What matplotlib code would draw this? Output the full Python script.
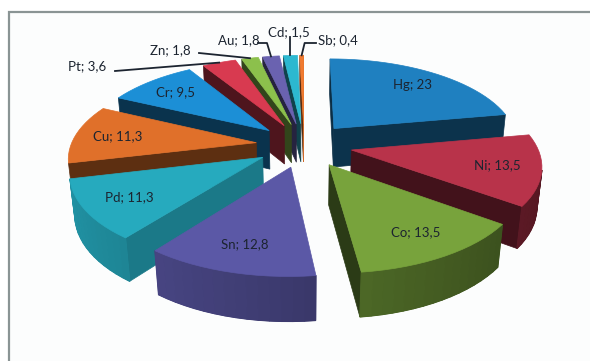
import numpy as np
import matplotlib
matplotlib.use("Agg")
import matplotlib.pyplot as plt
from matplotlib.patches import Polygon, Rectangle
from matplotlib import colors as mcolors

# ---- data ----
metals = ["Hg", "Ni", "Co", "Sn", "Pd", "Cu", "Cr", "Pt", "Zn", "Au", "Cd", "Sb"]
values = [23, 13.5, 13.5, 12.8, 11.3, 11.3, 9.5, 3.6, 1.8, 1.8, 1.5, 0.4]
slice_colors = ["#1f80c0", "#b8334a", "#78a33c", "#5b58a6", "#26aabe", "#e0702a",
                "#1c8fd6", "#d83a50", "#8cc04c", "#6a62b0", "#2cb8d0", "#f07a30"]
labels = [f"{m}; {v:g}".replace(".", ",") for m, v in zip(metals, values)]

# ---- view / geometry ----
H = 0.243         # pie thickness (radius = 1)
EXPLODE = 0.26
TILT = np.radians(29.4)
DIST = 5.8        # camera distance, perspective
SCALE = 181.5
CX, CY = 304, 145  # where the centre of the top face lands
LAB_R = 0.77
FONT = ["Lato", "DejaVu Sans"]

# outside labels: text anchor (left, centre) and elbow offset of the leader
outside = {
    "Pt": dict(xy=(68, 66), start=(115, 71), elbow=None),
    "Zn": dict(xy=(150, 50), start=(199, 53), elbow=None),
    "Au": dict(xy=(218, 40), start=(258, 43), elbow=-4),
    "Cd": dict(xy=(268, 32), start=None, elbow=0),
    "Sb": dict(xy=(318, 40), start=(316, 43), elbow=3),
}

st, ct = np.sin(TILT), np.cos(TILT)
cam = np.array([0.0, -DIST * ct, DIST * st])


def proj_raw(X, Y, Z):
    v = Y * st + Z * ct
    w = Y * ct - Z * st
    s = DIST / (DIST + w)
    return X * s * SCALE, v * s * SCALE


ox, oy = proj_raw(0.0, 0.0, H)


def proj(p):
    sx, sy = proj_raw(*p)
    return CX + sx - ox, CY - (sy - oy)


def shade(c, f):
    r, g, b = mcolors.to_rgb(c)
    return (r * f, g * f, b * f)


fig = plt.figure(figsize=(5.9, 3.61), dpi=100)
ax = fig.add_axes([0, 0, 1, 1])
ax.set_xlim(0, 590)
ax.set_ylim(361, 0)
ax.axis("off")

# chart area frame
ax.add_patch(Rectangle((8.5, 11.5), 600, 400, facecolor="#fcfdfd",
                       edgecolor="#8a9494", linewidth=1.6, zorder=0))

total = sum(values)
slices = []
start = 90.0
for name, val, col in zip(metals, values, slice_colors):
    span = val / total * 360.0
    a1, a0 = start, start - span
    start = a0
    mid = np.radians((a0 + a1) / 2)
    off = EXPLODE * np.array([np.cos(mid), np.sin(mid), 0.0])
    cen = off + 0.55 * np.array([np.cos(mid), np.sin(mid), 0.0]) + [0, 0, H / 2]
    depth = np.linalg.norm(cen - cam)
    slices.append(dict(name=name, col=col, a0=a0, a1=a1, mid=mid, off=off, depth=depth))


def visible(normal, pts):
    c = np.mean(pts, axis=0)
    return np.dot(normal, cam - c) > 0


def draw_face(pts3, color, z, lw=0.5):
    xy = [proj(p) for p in pts3]
    ax.add_patch(Polygon(xy, closed=True, facecolor=color, edgecolor=color,
                         linewidth=lw, zorder=z))


z = 1
for sl in sorted(slices, key=lambda d: -d["depth"]):
    off = sl["off"]
    n = max(3, int((sl["a1"] - sl["a0"]) / 3) + 2)
    ang = np.radians(np.linspace(sl["a1"], sl["a0"], n))
    top = [off + [np.cos(a), np.sin(a), H] for a in ang]
    bot = [off + [np.cos(a), np.sin(a), 0.0] for a in ang]
    apex_t = off + [0, 0, H]
    apex_b = off + [0, 0, 0]

    # radial faces
    for a_edge, k, sign in ((sl["a1"], 0, 1), (sl["a0"], -1, -1)):
        na = np.radians(a_edge + sign * 90)
        nrm = np.array([np.cos(na), np.sin(na), 0.0])
        quad = [apex_t, top[k], bot[k], apex_b]
        if visible(nrm, quad):
            f = 0.36 + 0.5 * max(0.0, nrm[0]) ** 1.5
            draw_face(quad, shade(sl["col"], f), z)
    # curved side: visible strip underlay, then shaded segments on top
    vis = []
    for k in range(n - 1):
        am = (ang[k] + ang[k + 1]) / 2
        nrm = np.array([np.cos(am), np.sin(am), 0.0])
        if visible(nrm, [top[k], top[k + 1], bot[k + 1], bot[k]]):
            vis.append((k, am))
    if vis:
        k0, k1 = vis[0][0], vis[-1][0] + 1
        fm = 0.66 - 0.2 * np.cos(np.mean([a for _, a in vis]))
        draw_face(top[k0:k1 + 1] + bot[k0:k1 + 1][::-1], shade(sl["col"], fm), z)
        for k, am in vis:
            f = 0.66 - 0.2 * np.cos(am)
            draw_face([top[k], top[k + 1], bot[k + 1], bot[k]],
                      shade(sl["col"], f), z, lw=0.9)
    # top face
    draw_face([apex_t] + top, sl["col"], z + 1)
    z += 2

# labels
for sl, lab in zip(slices, labels):
    d = np.array([np.cos(sl["mid"]), np.sin(sl["mid"]), 0.0])
    if sl["name"] in outside:
        o = outside[sl["name"]]
        ax.text(o["xy"][0], o["xy"][1], lab, ha="left", va="center", fontsize=9.5,
                family=FONT, color="#1c2430", zorder=100)
        rx, ry = proj(sl["off"] + d + [0, 0, H])
        if o["start"] is None:
            path = [(rx + o["elbow"], o["xy"][1] + 5), (rx, ry)]
        elif o["elbow"] is None:
            path = [o["start"], (rx, ry)]
        else:
            path = [o["start"], (rx + o["elbow"], o["start"][1]), (rx, ry)]
        xs, ys = zip(*path)
        ax.plot(xs, ys, color="#1c2430", linewidth=1.3, zorder=99)
    else:
        tx, ty = proj(sl["off"] + LAB_R * d + [0, 0, H])
        ax.text(tx, ty, lab, ha="center", va="center", fontsize=9.5,
                family=FONT, color="#1c2430", zorder=100)

fig.savefig("out.png", dpi=100)
